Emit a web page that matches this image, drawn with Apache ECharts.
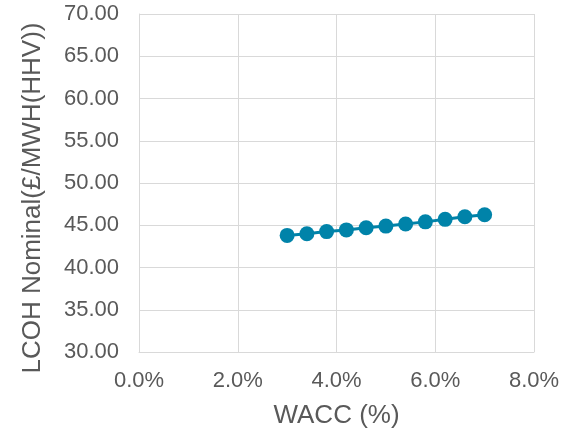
<!DOCTYPE html>
<html>
<head>
<meta charset="utf-8">
<script src="https://cdn.jsdelivr.net/npm/echarts@6/dist/echarts.min.js"></script>
<style>
  html, body { margin: 0; padding: 0; background: #fff; }
  #chart { width: 564px; height: 433px; }
</style>
</head>
<body>
<div id="chart"></div>
<script>
// WACC (%) values and the nominal levelised cost of hydrogen at each
const wacc = [3.0, 3.4, 3.8, 4.2, 4.6, 5.0, 5.4, 5.8, 6.2, 6.6, 7.0];
const lcoh = [43.8, 44.0, 44.25, 44.45, 44.7, 44.9, 45.15, 45.4, 45.7, 46.0, 46.25];

const xTitle = 'WACC (%)';
const yTitle = 'LCOH Nominal(£/MWH(HHV))';

const points = wacc.map((w, i) => [w, lcoh[i]]);

const textColor = '#595959';
const gridColor = '#d9d9d9';
const font = 'Liberation Sans, Arial, sans-serif';

const chart = echarts.init(document.getElementById('chart'), null, { renderer: 'canvas' });
chart.setOption({
  animation: false,
  grid: { left: 139, right: 30, top: 14, bottom: 81, outerBoundsMode: 'none', containLabel: false },
  xAxis: {
    type: 'value',
    min: 0, max: 8, interval: 2,
    name: xTitle,
    nameLocation: 'middle',
    nameGap: 51,
    nameTextStyle: { color: textColor, fontSize: 26, fontFamily: font },
    axisLine: { show: true, lineStyle: { color: gridColor, width: 1 } },
    axisTick: { show: false },
    axisLabel: {
      color: textColor, fontSize: 22, fontFamily: font, margin: 18,
      formatter: v => v.toFixed(1) + '%'
    },
    splitLine: { show: true, lineStyle: { color: gridColor, width: 1 } }
  },
  yAxis: {
    type: 'value',
    min: 30, max: 70, interval: 5,
    name: yTitle,
    nameLocation: 'middle',
    nameGap: 93,
    // title sits a little below the plot's middle
    nameTextStyle: { color: textColor, fontSize: 26, fontFamily: font, padding: [0, 30, 0, 0] },
    axisLine: { show: true, lineStyle: { color: gridColor, width: 1 } },
    axisTick: { show: false },
    axisLabel: {
      color: textColor, fontSize: 22, fontFamily: font, margin: 20,
      formatter: v => v.toFixed(2)
    },
    splitLine: { show: true, lineStyle: { color: gridColor, width: 1 } }
  },
  series: [{
    type: 'line',
    data: points,
    symbol: 'circle',
    symbolSize: 15,
    lineStyle: { color: '#0083a9', width: 3 },
    itemStyle: { color: '#0083a9' }
  }]
});
</script>
</body>
</html>
